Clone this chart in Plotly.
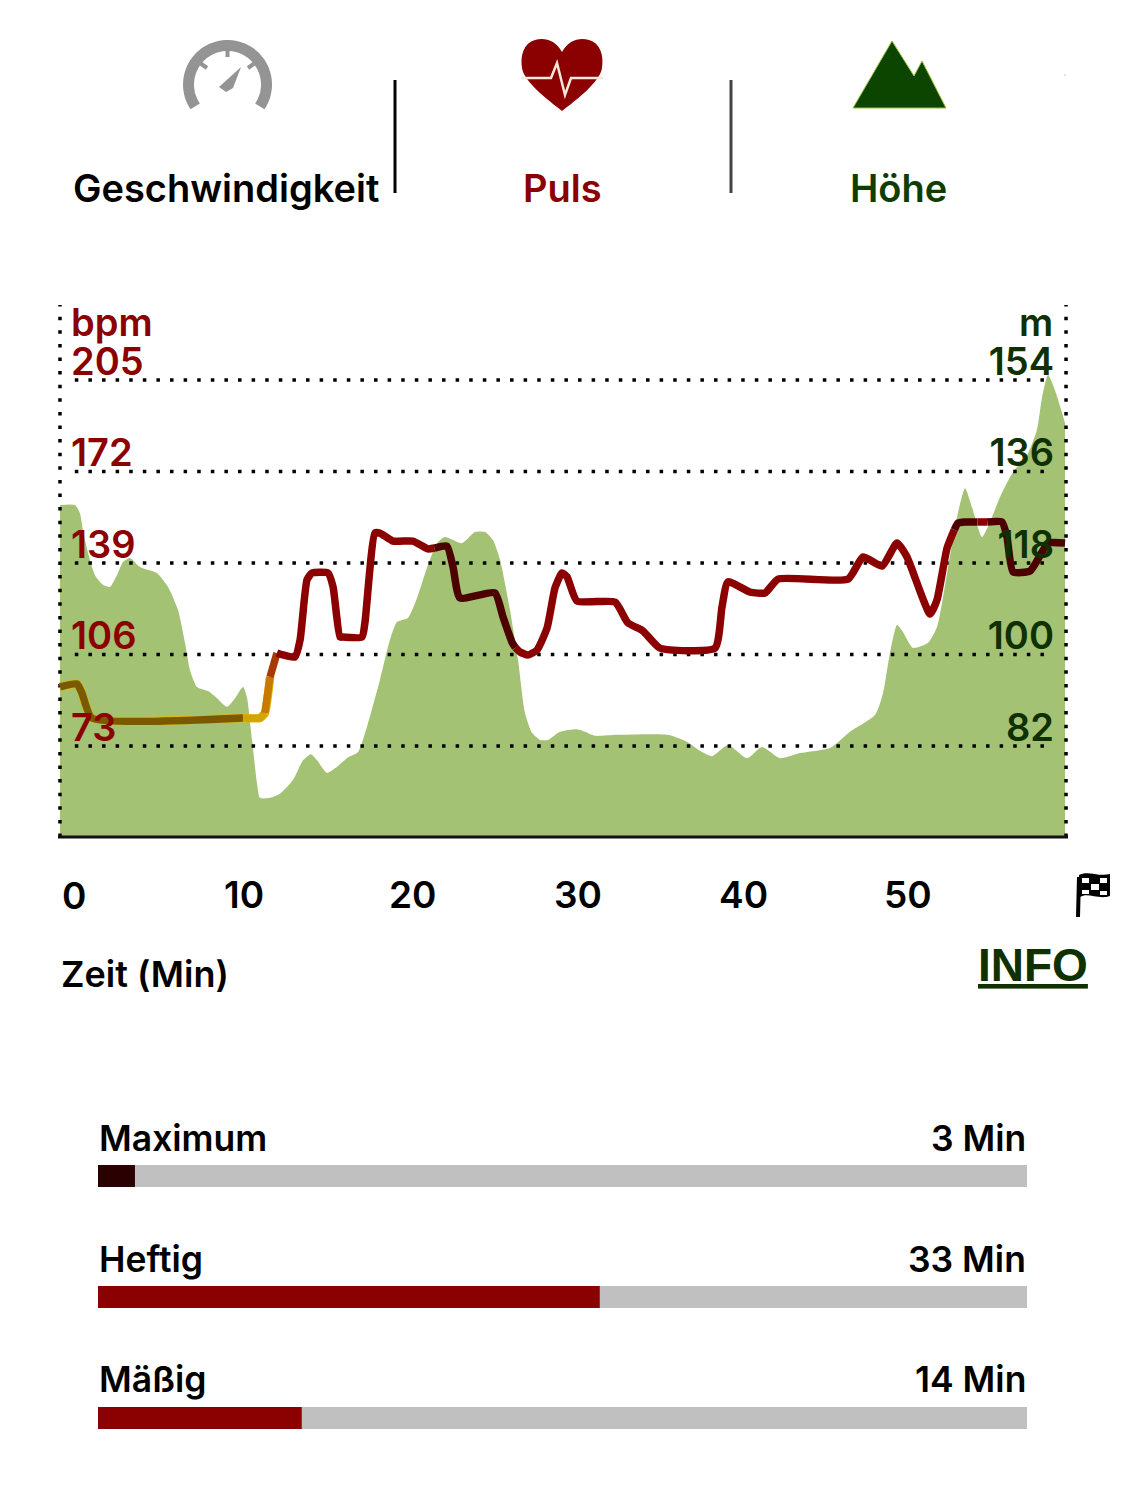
import numpy as np
import plotly.graph_objects as go

# altitude profile (m) against time (min)
alt_min = [0, 0.91, 1.21, 1.39, 1.70, 2.12, 2.61, 3.03, 3.45, 3.82, 4.24, 4.85, 5.88, 6.55, 7.15, 7.58, 7.88, 8.30, 8.97, 9.52,
           10.12, 10.61, 11.09, 11.33, 11.64, 11.94, 12.12, 12.73, 13.33, 14.12, 14.73, 15.21, 15.58, 16.18, 16.79, 17.39, 18.06, 18.67, 19.39, 20.0,
           20.42, 21.09, 21.64, 22.30, 22.85, 23.33, 24.36, 25.15, 25.76, 26.24, 26.67, 27.27, 27.76, 28.18, 28.61, 29.09, 29.58, 30.30, 31.33, 31.82,
           32.42, 33.76, 36.85, 38.0, 38.91, 39.52, 40.48, 41.64, 42.55, 43.64, 44.85, 46.67, 47.88, 49.39, 49.88, 50.30, 50.73, 51.09, 51.70, 52.61,
           53.15, 53.76, 54.36, 54.85, 55.27, 55.88, 56.48, 56.97, 57.76, 58.61, 59.21, 59.52, 59.88, 60.30, 60.91]
alt_m = [129.4, 129.4, 127.8, 124.5, 120.0, 115.6, 113.7, 113.3, 115.6, 118.2, 119.0, 117.2, 116.0, 113.3, 108.8, 102.3, 96.9, 93.6, 92.8, 91.4,
         89.7, 91.4, 93.6, 91.6, 83.2, 74.7, 71.8, 71.8, 72.6, 75.3, 79.2, 80.4, 79.2, 76.7, 77.9, 79.6, 80.8, 86.5, 95.0, 102.9,
         106.4, 107.2, 111.1, 117.6, 121.9, 123.1, 121.9, 124.1, 124.1, 122.5, 118.6, 108.8, 98.9, 88.5, 84.6, 83.2, 83.2, 84.8, 85.3, 84.8,
         84.0, 84.2, 84.2, 82.8, 80.8, 80.0, 82.2, 79.6, 81.8, 79.6, 80.6, 81.6, 84.8, 88.1, 92.4, 100.3, 105.8, 104.4, 101.3, 102.3,
         105.4, 116.0, 127.0, 132.7, 129.0, 123.1, 127.0, 131.0, 135.9, 139.2, 144.2, 150.6, 155.0, 152.0, 145.5]

# heart rate (bpm) against time (min)
hr_min = [0, 1.03, 1.33, 1.94, 11.09, 12.12, 12.42, 12.73, 13.15, 14.24, 14.55, 14.97, 15.27, 16.24, 16.55, 16.97, 17.15, 18.30, 18.48, 19.09,
          19.39, 20.18, 21.39, 22.30, 22.7, 23.45, 23.82, 24.24, 26.36, 26.85, 27.39, 27.6, 27.88, 28.36, 28.91, 29.52, 30.0, 30.42, 30.73, 31.33,
          33.64, 34.42, 35.33, 36.36, 39.70, 40.12, 40.48, 41.82, 42.73, 43.52, 47.76, 48.67, 49.82, 50.73, 51.33, 52.73, 53.15, 53.76, 54.2, 54.42,
          54.85, 55.6, 56.2, 57.09, 57.39, 57.76, 58.79, 59.52, 59.88, 60.91]
hr_bpm = [94.3, 95.4, 92.1, 83.1, 83.1, 83.1, 84.9, 97.9, 106.5, 105.1, 111.2, 132.9, 135.4, 135.4, 130.4, 112.3, 112.3, 112.3, 117.4, 149.8,
          149.8, 146.9, 146.9, 144.1, 144.4, 145.1, 137.6, 126.4, 128.2, 119.5, 110.5, 108.5, 106.9, 105.8, 107.6, 115.6, 130.0, 135.4, 134.0, 125.3,
          124.9, 117.4, 114.5, 108.3, 108.3, 123.1, 132.2, 128.5, 128.2, 133.2, 133.2, 141.2, 137.9, 146.2, 141.2, 120.6, 125.7, 144.4, 151.0, 153.4,
          153.8, 153.8, 153.8, 153.8, 148.4, 135.8, 136.1, 143.0, 146.2, 146.2]

# line colour changes along the time axis
zone_start = [0, 11.09, 12.42, 12.73, 13.15, 22.7, 27.6, 54.2, 55.6, 56.2]
zone_end = [11.09, 12.42, 12.73, 13.15, 22.7, 27.6, 54.2, 55.6, 56.2, 60.91]
zone_color = ['#7a5a00', '#d6a400', '#c87a00', '#a63a00', '#8b0000', '#4d0000', '#8b0000', '#4d0000', '#8b0000', '#4d0000']

bpm_ticks = [73, 106, 139, 172, 205]
alt_ticks = [82, 100, 118, 136, 154]
time_ticks = [0, 10, 20, 30, 40, 50]

# intensity bars
intensity_names = ['Maximum', 'Heftig', 'Mäßig']
intensity_minutes = [3, 33, 14]
intensity_bar = [2.43, 33, 13.4]
intensity_total = 61.1
intensity_colors = ['#2a0000', '#8b0000', '#8b0000']

headers = ['Geschwindigkeit', 'Puls', 'Höhe']
header_colors = ['#000000', '#8b0000', '#0f3d00']

RED = '#8b0000'
DARK_GREEN = '#0f3000'
FONT = 'Inter'
W, H = 1125, 1494


def arc(cx, cy, r, a0, a1):
    # plotly shapes have no arc command, so use short lines
    angles = np.radians(np.linspace(a0, a1, 60))
    pts = [f"{cx + r * np.cos(a):.1f} {cy - r * np.sin(a):.1f}" for a in angles]
    return "M " + " L ".join(pts)


fig = go.Figure()

# elevation goes on the base axis so the pulse line stays on top of it
fig.add_trace(go.Scatter(x=alt_min, y=alt_m, mode='lines', fill='tozeroy', fillcolor='#a3c274',
                         line=dict(color='#a3c274', width=0, shape='spline', smoothing=0.6),
                         xaxis='x', yaxis='y', showlegend=False))

# dotted grid on top of the area
for b in bpm_ticks:
    fig.add_trace(go.Scatter(x=[0.9, 60], y=[b, b], mode='lines',
                             line=dict(color='black', width=3.5, dash='3.5px,10.1px'),
                             xaxis='x', yaxis='y2', showlegend=False))
for edge in [0, 60.97]:
    fig.add_trace(go.Scatter(x=[edge, edge], y=[40.18, 232.05], mode='lines',
                             line=dict(color='black', width=3.5, dash='3.5px,10.1px'),
                             xaxis='x', yaxis='y2', showlegend=False))

hr_x = np.array(hr_min)
hr_y = np.array(hr_bpm)

# yellow edge of the low part of the line
low = hr_x <= 12.73
fig.add_trace(go.Scatter(x=hr_x[low], y=hr_y[low], mode='lines',
                         line=dict(color='#e6b800', width=8.5, shape='spline', smoothing=0.5),
                         xaxis='x', yaxis='y2', showlegend=False))
for start, end, color in zip(zone_start, zone_end, zone_color):
    keep = (hr_x >= start) & (hr_x <= end)
    fig.add_trace(go.Scatter(x=hr_x[keep], y=hr_y[keep], mode='lines',
                             line=dict(color=color, width=7.5, shape='spline', smoothing=0.5),
                             xaxis='x', yaxis='y2', showlegend=False))

# intensity bars
fig.add_trace(go.Bar(x=[intensity_total] * 3, y=intensity_names, orientation='h', width=0.182,
                     marker=dict(color='#c0c0c0', line=dict(width=0)),
                     xaxis='x4', yaxis='y4', showlegend=False))
fig.add_trace(go.Bar(x=intensity_bar, y=intensity_names, orientation='h', width=0.182,
                     marker=dict(color=intensity_colors, line=dict(width=0)),
                     xaxis='x4', yaxis='y4', showlegend=False))

# pixel sized axes for the header icons and loose texts
fig.add_trace(go.Scatter(x=[None], y=[None], xaxis='x3', yaxis='y3', showlegend=False))

annotations = []


def label(text, x, y, size, color, anchor='center', weight=600, family=FONT):
    annotations.append(dict(text=text, x=x, y=y, xref='x3', yref='y3', xanchor=anchor, yanchor='middle',
                            showarrow=False, font=dict(family=family, size=size, color=color, weight=weight)))


for text, x, color in zip(headers, [226, 562, 898], header_colors):
    label(text, x, 188, 38, color)
label('bpm', 69, 322, 38, RED, 'left')
label('m', 1055, 322, 38, DARK_GREEN, 'right')
label('Zeit (Min)', 59, 974, 36, '#000000', 'left')
label('<u>INFO</u>', 976, 965, 46, DARK_GREEN, 'left', 700, 'Liberation Sans')

# plotly drops the tick label at the very start of the axis when it is moved to the right of its tick
annotations.append(dict(text=str(time_ticks[0]), x=time_ticks[0], y=895, xref='x', yref='y3', xanchor='left',
                        yanchor='middle', showarrow=False,
                        font=dict(family=FONT, size=37, color='black', weight=600)))

for name, minutes in zip(intensity_names, intensity_minutes):
    annotations.append(dict(text=name, x=0, y=name, xref='x4', yref='y4', xanchor='left', yanchor='middle',
                            yshift=38, xshift=-1, showarrow=False,
                            font=dict(family=FONT, size=35.5, color='black', weight=600)))
    annotations.append(dict(text=f"{minutes} Min", x=intensity_total, y=name, xref='x4', yref='y4',
                            xanchor='right', yanchor='middle', yshift=38, xshift=1, showarrow=False,
                            font=dict(family=FONT, size=35.5, color='black', weight=600)))

GREY = '#949494'
shapes = [
    # chart baseline
    dict(type='line', x0=58, x1=1068, y0=837, y1=837, line=dict(color='#111111', width=3)),
    # dividers
    dict(type='line', x0=395, x1=395, y0=80, y1=193, line=dict(color='black', width=3)),
    dict(type='line', x0=731, x1=731, y0=80, y1=193, line=dict(color='#444444', width=3)),
    dict(type='rect', x0=1064.5, x1=1065.5, y0=74.5, y1=75.5, fillcolor='#999999', line=dict(width=0)),
    # gauge
    dict(type='path', path=arc(227.5, 84.5, 39, 214, -34), line=dict(color=GREY, width=11)),
    dict(type='path', path='M 227.5 48 L 227.5 57', line=dict(color=GREY, width=4)),
    dict(type='path', path='M 200 63 L 207 68', line=dict(color=GREY, width=4)),
    dict(type='path', path='M 255 63 L 248 68', line=dict(color=GREY, width=4)),
    dict(type='path', path='M 241 67 L 233 88 L 226 92 L 219 87 Z', fillcolor=GREY, line=dict(width=0)),
    # heart
    dict(type='path', path='M 562 52 C 556 40, 544 37, 535 40 C 524 43, 520 55, 522 68 C 524 82, 548 100, 562 111 '
                           'C 576 100, 600 82, 602 68 C 604 55, 600 43, 589 40 C 580 37, 568 40, 562 52 Z',
         fillcolor=RED, line=dict(width=0)),
    dict(type='path', path='M 521 78 L 551 78 L 557 63 L 565 95 L 571 78 L 603 78',
         line=dict(color='#f6e6da', width=2.5)),
    # mountain
    dict(type='path', path='M 853 108 L 892 41 L 914 76 L 922 61 L 946 108 Z', fillcolor='#0b4500',
         line=dict(color='#9cc040', width=1)),
    # finish flag
    dict(type='path', path='M 1078 917 L 1079 877', line=dict(color='black', width=4)),
    dict(type='path', path='M 1079 875 C 1088 870, 1098 877, 1110 874 L 1110 896 C 1098 900, 1088 892, 1080 897 Z',
         fillcolor='black', line=dict(width=0)),
    dict(type='rect', x0=1082, x1=1089, y0=878, y1=883, fillcolor='white', line=dict(width=0)),
    dict(type='rect', x0=1100, x1=1107, y0=878, y1=883, fillcolor='white', line=dict(width=0)),
    dict(type='rect', x0=1091, x1=1099, y0=884, y1=890, fillcolor='white', line=dict(width=0)),
    dict(type='rect', x0=1082, x1=1089, y0=890, y1=894, fillcolor='white', line=dict(width=0)),
    dict(type='rect', x0=1100, x1=1107, y0=891, y1=895, fillcolor='white', line=dict(width=0)),
]
for s in shapes:
    s.update(xref='x3', yref='y3')

fig.update_layout(
    width=W, height=H,
    margin=dict(l=0, r=0, t=0, b=0),
    paper_bgcolor='white',
    plot_bgcolor='rgba(0,0,0,0)',  # the pixel axes cover the page, must stay see through
    barmode='overlay',
    showlegend=False,
    annotations=annotations,
    shapes=shapes,
    # 3px of spare room on both sides, lines get clipped at the axis range
    xaxis=dict(domain=[57 / W, 1069 / W], range=[-0.18, 61.15], anchor='y', showgrid=False, zeroline=False,
               showline=False,
               tickmode='array', tickvals=time_ticks[1:], ticklabelposition='outside right',
               ticklen=0, ticklabelstandoff=33, ticklabelshift=-1,
               tickfont=dict(family=FONT, size=37, color='black', weight=600)),
    yaxis=dict(domain=[1 - 837 / H, 1 - 305 / H], range=[64.1, 168.75], side='right', anchor='x', showgrid=False,
               zeroline=False, tickmode='array', tickvals=alt_ticks, ticklabelposition='inside top',
               ticklen=0, ticklabelstandoff=12, ticklabelshift=8,
               tickfont=dict(family=FONT, size=38, color=DARK_GREEN, weight=600)),
    yaxis2=dict(domain=[1 - 837 / H, 1 - 305 / H], range=[40.18, 232.05], overlaying='y', side='left', anchor='x',
                showgrid=False, zeroline=False, tickmode='array', tickvals=bpm_ticks,
                ticklabelposition='inside top', ticklen=0, ticklabelstandoff=11, ticklabelshift=8,
                tickfont=dict(family=FONT, size=38, color=RED, weight=600)),
    xaxis3=dict(domain=[0, 1], range=[0, W], anchor='y3', visible=False),
    yaxis3=dict(domain=[0, 1], range=[H, 0], anchor='x3', visible=False),
    xaxis4=dict(domain=[98 / W, 1027 / W], range=[0, intensity_total], anchor='y4', visible=False),
    yaxis4=dict(domain=[1 - 1429 / H, 1 - 1165 / H], range=[2.091, -0.091], anchor='x4', visible=False,
                type='category', categoryorder='array', categoryarray=intensity_names),
)

fig.write_html("out.html", config=dict(displayModeBar=False),
               post_script="document.body.style.margin='0';document.body.style.overflow='hidden';")
